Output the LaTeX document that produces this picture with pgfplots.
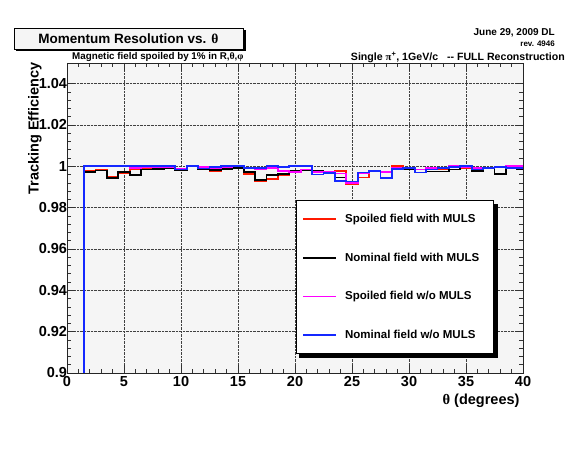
\documentclass[border=0pt]{standalone}
\usepackage{fontspec}
\setmainfont{Liberation Sans}
\newfontfamily\symf{Liberation Serif}
\usepackage{pgfplots}
\pgfplotsset{compat=1.18}
\usetikzlibrary{shadows}
\pgfplotsset{hist/.style={const plot, line width=1.8bp,
  legend image code/.code={\draw[##1, sharp plot, line width=1.8bp] (0bp,0bp) -- (33bp,0bp);}}}

% bins of 1 degree; x = left edge; last row closes the histogram at 40
\newcommand{\redpts}{(1.5,0.85) (1.5,0.9977) (2.5,0.9982) (3.5,0.9948) (4.5,0.9967) (5.5,0.9986) (6.5,0.9990) (7.5,0.9991) (8.5,0.9990) (9.5,0.9984) (10.5,1.0000) (11.5,0.9988) (12.5,0.9979) (13.5,0.9990) (14.5,0.9995) (15.5,0.9963) (16.5,0.9928) (17.5,0.9938) (18.5,0.9956) (19.5,0.9974) (20.5,0.9984) (21.5,0.9979) (22.5,0.9972) (23.5,0.9979) (24.5,0.9914) (25.5,0.9946) (26.5,0.9975) (27.5,0.9975) (28.5,1.0000) (29.5,0.9991) (30.5,0.9985) (31.5,0.9987) (32.5,0.9985) (33.5,0.9985) (34.5,0.9990) (35.5,0.9990) (36.5,0.9990) (37.5,0.9995) (38.5,0.9995) (39.5,0.9995) (40,0.9995)}
\newcommand{\blackpts}{(1.5,0.85) (1.5,0.9972) (2.5,0.9980) (3.5,0.9943) (4.5,0.9971) (5.5,0.9957) (6.5,0.9985) (7.5,0.9988) (8.5,0.9990) (9.5,0.9982) (10.5,1.0000) (11.5,0.9987) (12.5,0.9982) (13.5,0.9988) (14.5,0.9993) (15.5,0.9971) (16.5,0.9932) (17.5,0.9958) (18.5,0.9963) (19.5,0.9978) (20.5,0.9980) (21.5,0.9979) (22.5,0.9972) (23.5,0.9946) (24.5,0.9927) (25.5,0.9965) (26.5,0.9978) (27.5,0.9970) (28.5,0.9990) (29.5,0.9988) (30.5,0.9970) (31.5,0.9975) (32.5,0.9975) (33.5,0.9985) (34.5,0.9995) (35.5,0.9976) (36.5,0.9993) (37.5,0.9961) (38.5,0.9990) (39.5,0.9985) (40,0.9985)}
\newcommand{\magpts}{(1.5,0.85) (1.5,1.0003) (2.5,1.0000) (3.5,1.0000) (4.5,1.0000) (5.5,0.9992) (6.5,0.9995) (7.5,0.9996) (8.5,0.9997) (9.5,0.9986) (10.5,1.0000) (11.5,0.9995) (12.5,0.9990) (13.5,0.9998) (14.5,1.0000) (15.5,0.9990) (16.5,0.9987) (17.5,0.9992) (18.5,0.9976) (19.5,0.9971) (20.5,0.9985) (21.5,0.9971) (22.5,0.9973) (23.5,0.9965) (24.5,0.9920) (25.5,0.9965) (26.5,0.9977) (27.5,0.9972) (28.5,0.9992) (29.5,0.9992) (30.5,0.9985) (31.5,0.9990) (32.5,0.9990) (33.5,1.0000) (34.5,0.9998) (35.5,0.9990) (36.5,0.9990) (37.5,0.9997) (38.5,1.0000) (39.5,1.0000) (40,1.0000)}
\newcommand{\bluepts}{(1.5,0.85) (1.5,1.0000) (2.5,1.0000) (3.5,1.0000) (4.5,1.0000) (5.5,1.0000) (6.5,1.0000) (7.5,1.0000) (8.5,1.0000) (9.5,0.9985) (10.5,1.0000) (11.5,0.9989) (12.5,0.9995) (13.5,1.0000) (14.5,1.0000) (15.5,0.9990) (16.5,0.9990) (17.5,1.0000) (18.5,0.9995) (19.5,1.0000) (20.5,1.0000) (21.5,0.9960) (22.5,0.9967) (23.5,0.9930) (24.5,0.9927) (25.5,0.9970) (26.5,0.9979) (27.5,0.9943) (28.5,0.9987) (29.5,0.9992) (30.5,0.9970) (31.5,0.9985) (32.5,0.9993) (33.5,0.9997) (34.5,1.0000) (35.5,0.9985) (36.5,0.9993) (37.5,0.9997) (38.5,0.9990) (39.5,0.9990) (40,0.9990)}

\newcommand{\pad}{\rule{6.5bp}{0pt}}

\begin{document}
\begin{tikzpicture}[x=1bp,y=1bp]
\path (0,0) rectangle (569,449);
\begin{axis}[
  scale only axis, width=456bp, height=310bp,
  at={(67bp,76bp)}, anchor=south west,
  xmin=0, xmax=40, ymin=0.9, ymax=1.05,
  xtick={0,5,...,40}, ytick={0.9,0.92,0.94,0.96,0.98,1,1.02,1.04},
  minor x tick num=4, minor y tick num=4,
  xtick pos=both, ytick pos=both,
  tick align=inside, major tick length=8bp, minor tick length=4bp,
  tick style={black!80, line width=0.7bp},
  grid=major, major grid style={densely dotted, black!75, line width=0.6bp},
  axis background/.style={fill=black!4},
  axis line style={black!85, line width=0.9bp},
  /pgf/number format/assume math mode=true,
  yticklabel style={/pgf/number format/fixed, /pgf/number format/precision=2, xshift=3.5bp},
  tick label style={font=\bfseries\fontsize{14.5bp}{16bp}\selectfont},
  ylabel={Tracking Efficiency},
  ylabel style={at={(rel axis cs:-0.055,1.003)}, anchor=south east, inner sep=0pt, font=\bfseries\fontsize{14.5bp}{16bp}\selectfont},
  xlabel={{\symf θ} (degrees)},
  xlabel style={at={(rel axis cs:1,0)}, anchor=north east, yshift=-17bp, font=\bfseries\fontsize{14.5bp}{16bp}\selectfont},
  legend cell align=left,
  legend style={name=leg, at={(rel axis cs:0.502,0.558)}, anchor=north west,
    draw=black, line width=0.8bp, fill=white,
    font=\bfseries\fontsize{11.5bp}{13bp}\selectfont,
    row sep=25bp, inner xsep=6bp, inner ysep=11.5bp,
    /tikz/every odd column/.append style={column sep=6bp}},
]
\addplot[hist, color={rgb,255:red,255;green,25;blue,0}] coordinates {\redpts};
\addlegendentry{Spoiled field with MULS\pad}
\addplot[hist, color=black] coordinates {\blackpts};
\addlegendentry{Nominal field with MULS\pad}
\addplot[hist, color={rgb,255:red,255;green,0;blue,255}] coordinates {\magpts};
\addlegendentry{Spoiled field w/o MULS\pad}
\addplot[hist, color={rgb,255:red,20;green,40;blue,255}] coordinates {\bluepts};
\addlegendentry{Nominal field w/o MULS\pad}
\end{axis}
% legend shadow (right and bottom strips)
\fill[black] ([yshift=-3.5bp]leg.north east) rectangle ([xshift=3.5bp,yshift=-3.5bp]leg.south east);
\fill[black] ([xshift=3.5bp,yshift=-3.5bp]leg.south west) rectangle ([xshift=3.5bp]leg.south east);
% title box
\node[draw=black, line width=0.8bp, fill=black!4, minimum width=229bp, minimum height=21bp, inner sep=0pt,
  drop shadow={shadow xshift=2.5bp, shadow yshift=-2.5bp, fill=black, opacity=1},
  font=\bfseries\fontsize{13.5bp}{15bp}\selectfont] at (128.5,410.5) {Momentum Resolution vs. {\symf θ}};
\node[anchor=east, inner sep=0pt, font=\bfseries\fontsize{10bp}{12bp}\selectfont] at (555,416) {June 29, 2009 DL};
\node[anchor=east, inner sep=0pt, font=\bfseries\fontsize{8bp}{9bp}\selectfont] at (555,405) {rev. 4946};
\node[anchor=west, inner sep=0pt, font=\bfseries\fontsize{9.8bp}{11bp}\selectfont] at (72,392) {Magnetic field spoiled by 1\% in R,{\symf θ},{\symf φ}};
\node[anchor=east, inner sep=0pt, font=\bfseries\fontsize{10.6bp}{11bp}\selectfont] at (565,392) {Single {\symf π}\textsuperscript{+}, 1GeV/c \ \ -{}- FULL Reconstruction};
\end{tikzpicture}
\end{document}
